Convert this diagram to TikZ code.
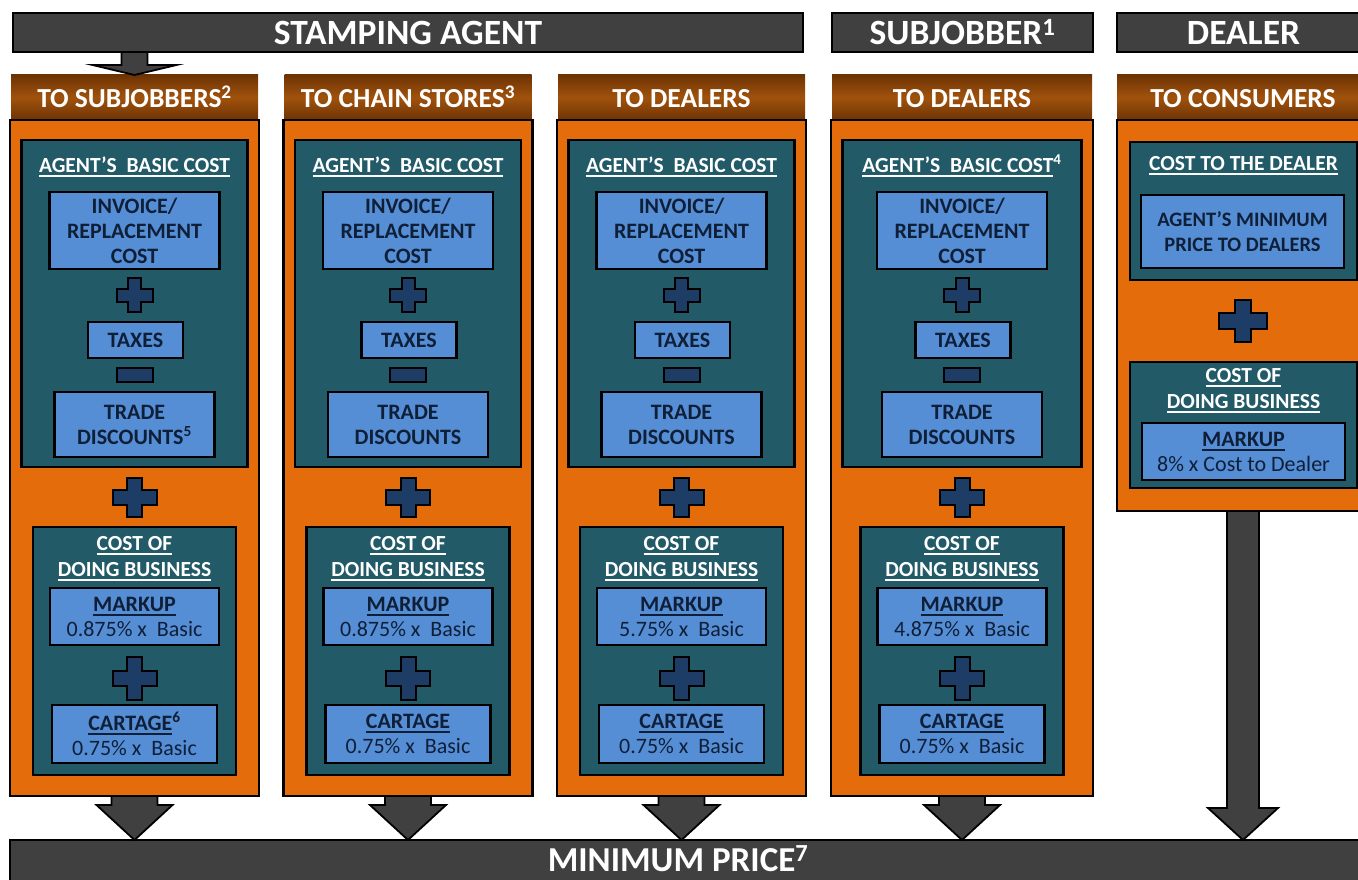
\documentclass[tikz,border=0pt]{standalone}
\usepackage{fontspec}
\setmainfont{Carlito}
\usetikzlibrary{calc}

\definecolor{orangeFill}{HTML}{E46C0A}
\definecolor{tealFill}{HTML}{225A68}
\definecolor{boxBlue}{HTML}{558ED5}
\definecolor{navyText}{HTML}{0F1F38}
\definecolor{signBlue}{HTML}{1E3D66}
\definecolor{barGray}{HTML}{404040}
\definecolor{brownDark}{HTML}{6E3304}
\definecolor{brownLight}{HTML}{A0520C}

% thick underline that keeps to the width of its text
\newcommand\ulbar[1]{\setbox0\hbox{#1}\rlap{\rule[-4.5pt]{\wd0}{2pt}}\box0}

\tikzset{
  every node/.style={inner sep=0pt, outer sep=0pt},
  topbar/.style={draw=black, line width=2.5pt, fill=barGray, text=white,
    font=\bfseries\fontsize{35.5}{35.5}\selectfont, text height=25pt, text depth=0pt},
  colhead/.style={top color=brownDark, bottom color=brownDark, middle color=brownLight,
    text=white, font=\bfseries\fontsize{27.5}{27.5}\selectfont, text height=21pt, text depth=0pt},
  colbox/.style={draw=black, line width=2.5pt, fill=orangeFill},
  panel/.style={draw=black, line width=2.5pt, fill=tealFill},
  itembox/.style={draw=black, line width=2.5pt, fill=boxBlue, text=navyText, align=center,
    font=\bfseries\fontsize{22}{25}\selectfont},
  paneltitle/.style={text=white, align=center, font=\bfseries\fontsize{21.5}{26}\selectfont},
  opsign/.style={draw=black, line width=2pt, fill=signBlue, line join=miter},
  blockarr/.style={draw=black, line width=1.8pt, fill=barGray, line join=miter},
}

% plus sign: centre x, centre y, width, height, arm thickness
\newcommand\plusmark[5]{%
  \draw[opsign] ({#1-#3/2},{#2-#5/2}) -- ({#1-#5/2},{#2-#5/2}) -- ({#1-#5/2},{#2-#4/2})
    -- ({#1+#5/2},{#2-#4/2}) -- ({#1+#5/2},{#2-#5/2}) -- ({#1+#3/2},{#2-#5/2})
    -- ({#1+#3/2},{#2+#5/2}) -- ({#1+#5/2},{#2+#5/2}) -- ({#1+#5/2},{#2+#4/2})
    -- ({#1-#5/2},{#2+#4/2}) -- ({#1-#5/2},{#2+#5/2}) -- ({#1-#3/2},{#2+#5/2}) -- cycle;}

% block arrow: start point, end point, shaft half width, head half width, head length
\newcommand\blockarrow[5]{%
  \path[blockarr] let \p1=(#1), \p2=(#2) in
    (\x1-#3pt,\y1) -- (\x1+#3pt,\y1) -- (\x1+#3pt,\y2+#5pt) -- (\x1+#4pt,\y2+#5pt)
    -- (\x1,\y2) -- (\x1-#4pt,\y2+#5pt) -- (\x1-#3pt,\y2+#5pt) -- cycle;}

% one pricing column: id, centre x, extra width, header, basic-cost note,
% trade-discount note, markup rate, cartage note
\newcommand\pricecol[8]{%
  \node[colhead, minimum width={247pt+#3pt}, minimum height=45pt] (#1head) at (#2,97.5) {#4};
  \node[colbox, minimum width={249pt+#3pt}, minimum height=676pt] (#1box) at (#2,458) {};
  \node[panel, minimum width={226pt+#3pt}, minimum height=327pt] (#1basic) at (#2,303.5) {};
  \node[paneltitle, anchor=base] (#1basictitle) at (#2,172.5) {\ulbar{AGENT’S\ \ BASIC COST}#5};
  \node[itembox, minimum width=170pt, minimum height=77pt] (#1invoice) at (#2,230.5)
    {INVOICE/\\REPLACEMENT\\COST};
  \plusmark{#2}{295}{36}{34}{13}
  \node[itembox, minimum width=95pt, minimum height=36pt] (#1taxes) at ({#2+1},340) {TAXES};
  \draw[opsign] ({#2-18},368) rectangle ({#2+18},382);
  \node[itembox, minimum width=160pt, minimum height=65pt] (#1trade) at (#2,424.5)
    {TRADE\\DISCOUNTS#6};
  \plusmark{#2}{497.5}{44}{39}{15}
  \node[panel, minimum width=203pt, minimum height=248pt] (#1cost) at (#2,651) {};
  \node[paneltitle] (#1costtitle) at (#2,559) {\ulbar{COST OF}\\\ulbar{DOING BUSINESS}};
  \node[itembox, minimum width=169pt, minimum height=57pt] (#1markup) at (#2,616.5)
    {\ulbar{MARKUP}\\{\mdseries #7\% x\ \ Basic}};
  \plusmark{#2}{678.5}{44}{43}{15}
  \node[itembox, minimum width=165pt, minimum height=58pt] (#1cartage) at (#2,734)
    {\ulbar{CARTAGE}#8\\{\mdseries 0.75\% x\ \ Basic}};
}

\begin{document}
\begin{tikzpicture}[x=1pt, y=-1pt]
\useasboundingbox (0,0) rectangle (1358,880);
\clip (0,0) rectangle (1358,880);

% trade levels along the top
\node[topbar, minimum width=790pt, minimum height=39pt] (sa) at (408,32.5) {STAMPING AGENT};
\node[topbar, minimum width=261pt, minimum height=39pt] (sj) at (962.5,32.5)
  {SUBJOBBER\textsuperscript{1}};
\node[topbar, minimum width=253pt, minimum height=39pt] (dl) at (1243.5,32.5) {DEALER};

% pricing columns
\pricecol{a}{134.5}{0}{TO SUBJOBBERS\textsuperscript{2}}{}{\textsuperscript{5}}{0.875}{\textsuperscript{6}}
\pricecol{b}{408}{0}{TO CHAIN STORES\textsuperscript{3}}{}{}{0.875}{}
\pricecol{c}{681.5}{0}{TO DEALERS}{}{}{5.75}{}
\pricecol{d}{962}{13}{TO DEALERS}{\textsuperscript{4}}{}{4.875}{}

% dealer column
\node[colhead, minimum width=252pt, minimum height=45pt] (ehead) at (1243,97.5) {TO CONSUMERS};
\node[colbox, minimum width=252pt, minimum height=391pt] (ebox) at (1243,315.5) {};
\node[panel, minimum width=227pt, minimum height=138pt] (edealer) at (1243.5,211) {};
\node[paneltitle, anchor=base] (edealertitle) at (1243.5,171) {\ulbar{COST TO THE DEALER}};
\node[itembox, minimum width=203pt, minimum height=73pt, font=\bfseries\fontsize{20.5}{25}\selectfont]
  (eminimum) at (1242.5,231.5) {AGENT’S MINIMUM\\PRICE TO DEALERS};
\plusmark{1243}{321}{48}{42}{16}
\node[panel, minimum width=227pt, minimum height=126pt] (ecost) at (1243.5,425) {};
\node[paneltitle] (ecosttitle) at (1243.5,391) {\ulbar{COST OF}\\\ulbar{DOING BUSINESS}};
\node[itembox, minimum width=203pt, minimum height=57pt] (emarkup) at (1243.5,451.5)
  {\ulbar{MARKUP}\\{\mdseries 8\% x Cost to Dealer}};

% flows
\blockarrow{sa.south -| ahead.north}{ahead.north}{13}{42}{10}
\node[topbar, minimum width=1360pt, minimum height=60pt] (minbar) at (690,870) {};
\node[anchor=base, text=white, font=\bfseries\fontsize{35}{35}\selectfont] (minlabel)
  at (678,871) {MINIMUM PRICE\textsuperscript{7}};
\blockarrow{abox.south}{minbar.north}{23}{38}{35}
\blockarrow{bbox.south}{minbar.north}{23}{38}{35}
\blockarrow{cbox.south}{minbar.north}{23}{38}{35}
\blockarrow{dbox.south}{minbar.north}{23}{38}{35}
\blockarrow{ebox.south}{minbar.north}{16}{35}{32}
\end{tikzpicture}
\end{document}
